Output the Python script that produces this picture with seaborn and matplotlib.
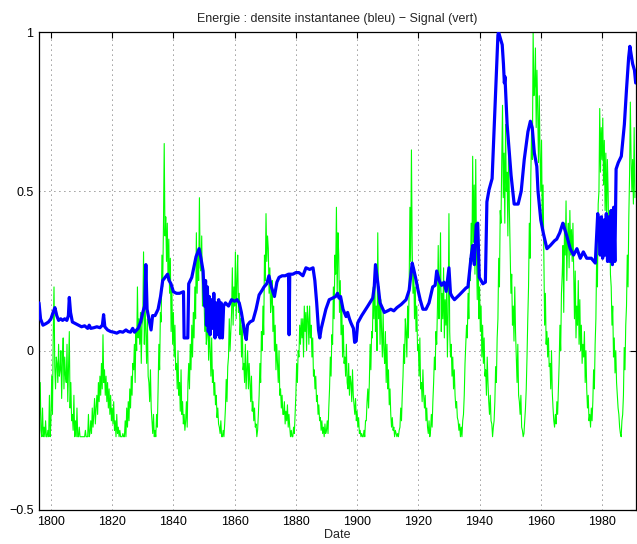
import matplotlib
matplotlib.use("Agg")
import matplotlib.pyplot as plt
import seaborn as sns
import numpy as np
import pandas as pd

# Signal (vert): quarterly readings, 1796 -> 1990, four values per year
signal_start = 1796.0
signal_values = [
    # 1796-1805
    -0.15, -0.22, -0.10, -0.25,  -0.27, -0.18, -0.27, -0.24,  -0.27, -0.22, -0.27, -0.27,
    -0.25, -0.27, -0.14, -0.27,  -0.22, -0.08, -0.20, 0.05,   0.20, -0.05, -0.12, -0.02,
    -0.04, -0.10, 0.02, -0.08,   -0.06, 0.00, -0.15, -0.03,   0.04, -0.12, -0.02, -0.08,
    -0.10, 0.02, -0.16, -0.05,
    # 1806-1815
    0.06, -0.18, -0.10, -0.22,   -0.20, -0.25, -0.14, -0.27,  -0.22, -0.27, -0.18, -0.27,
    -0.27, -0.24, -0.27, -0.27,  -0.27, -0.27, -0.27, -0.27,  -0.27, -0.25, -0.27, -0.27,
    -0.27, -0.20, -0.27, -0.26,  -0.22, -0.26, -0.18, -0.24,  -0.20, -0.15, -0.23, -0.18,
    -0.14, -0.20, -0.10, -0.16,
    # 1816-1825
    -0.08, -0.14, -0.04, -0.12,  0.05, -0.10, -0.06, -0.14,   -0.08, -0.16, -0.10, -0.18,
    -0.12, -0.20, -0.14, -0.22,  -0.18, -0.23, -0.16, -0.25,  -0.22, -0.27, -0.20, -0.26,
    -0.24, -0.27, -0.25, -0.27,  -0.27, -0.27, -0.26, -0.27,  -0.27, -0.22, -0.27, -0.18,
    -0.24, -0.16, -0.22, -0.12,
    # 1826-1835
    -0.18, -0.08, -0.14, -0.04,  -0.06, 0.02, -0.10, 0.06,    0.00, 0.20, 0.04, 0.10,
    0.02, 0.12, -0.04, 0.08,     0.10, 0.31, 0.02, 0.14,      0.06, -0.04, 0.10, -0.08,
    -0.10, -0.16, -0.06, -0.18,  -0.22, -0.26, -0.20, -0.27,  -0.25, -0.27, -0.20, -0.24,
    -0.12, 0.02, -0.06, 0.12,
    # 1836-1845
    0.09, 0.30, 0.20, 0.39,      0.65, 0.36, 0.42, 0.28,      0.40, 0.22, 0.35, 0.18,
    0.29, 0.06, 0.20, 0.02,      0.12, -0.02, 0.08, -0.06,    -0.04, -0.12, 0.00, -0.14,
    -0.10, -0.19, -0.06, -0.20,  -0.16, -0.23, -0.20, -0.25,  -0.22, -0.16, -0.24, -0.10,
    -0.04, -0.12, 0.02, -0.06,
    # 1846-1855
    0.08, -0.02, 0.12, 0.04,     0.20, 0.10, 0.37, 0.18,      0.30, 0.22, 0.48, 0.26,
    0.25, 0.36, 0.14, 0.20,      0.17, 0.06, 0.12, 0.02,      0.05, 0.14, -0.03, 0.08,
    0.00, -0.08, 0.04, -0.10,    -0.06, -0.14, -0.10, -0.17,  -0.14, -0.21, -0.18, -0.23,
    -0.24, -0.26, -0.22, -0.27,
    # 1856-1865
    -0.27, -0.25, -0.27, -0.23,  -0.18, -0.09, -0.16, -0.05,  -0.02, 0.10, 0.00, 0.06,
    0.12, 0.26, 0.08, 0.20,      0.14, 0.31, 0.10, 0.22,      0.30, 0.12, 0.18, 0.05,
    0.10, -0.02, 0.08, -0.06,    -0.04, -0.10, 0.02, -0.12,   -0.06, 0.00, -0.12, -0.04,
    -0.10, -0.16, -0.08, -0.19,
    # 1866-1875
    -0.16, -0.22, -0.18, -0.24,  -0.23, -0.27, -0.25, -0.20,  -0.14, -0.04, -0.10, 0.06,
    0.00, 0.14, 0.05, 0.30,      0.22, 0.43, 0.28, 0.36,      0.32, 0.18, 0.26, 0.12,
    0.15, 0.22, 0.06, 0.14,      0.00, 0.08, -0.06, 0.02,     -0.04, -0.10, 0.00, -0.14,
    -0.12, -0.18, -0.14, -0.20,
    # 1876-1885
    -0.20, -0.16, -0.23, -0.19,  -0.22, -0.17, -0.24, -0.20,  -0.24, -0.27, -0.25, -0.27,
    -0.27, -0.24, -0.26, -0.20,  -0.14, -0.04, -0.10, 0.00,   -0.02, 0.08, 0.02, 0.10,
    0.04, 0.10, -0.02, 0.14,     0.06, 0.12, 0.00, 0.14,      0.10, 0.02, 0.14, 0.04,
    0.08, -0.02, 0.04, -0.08,
    # 1886-1895
    -0.06, -0.12, -0.08, -0.16,  -0.14, -0.20, -0.17, -0.22,  -0.21, -0.25, -0.22, -0.26,
    -0.24, -0.27, -0.23, -0.26,  -0.25, -0.22, -0.26, -0.18,  -0.12, -0.02, -0.08, 0.05,
    0.02, 0.20, 0.10, 0.30,      0.24, 0.45, 0.18, 0.37,      0.30, 0.12, 0.22, 0.05,
    0.14, -0.02, 0.08, -0.04,
    # 1896-1905
    -0.02, -0.08, 0.02, -0.10,   -0.12, -0.04, -0.14, -0.08,  -0.10, -0.16, -0.06, -0.14,
    -0.17, -0.20, -0.15, -0.22,  -0.19, -0.24, -0.21, -0.26,  -0.25, -0.27, -0.26, -0.27,
    -0.27, -0.25, -0.27, -0.22,  -0.22, -0.16, -0.12, -0.18,  -0.10, 0.02, -0.06, 0.06,
    0.04, 0.20, 0.10, 0.27,
    # 1906-1915
    0.06, 0.14, 0.00, 0.37,      0.10, 0.20, 0.02, 0.16,      0.06, -0.02, 0.12, 0.00,
    -0.04, 0.06, -0.10, 0.02,    -0.12, -0.06, -0.17, -0.12,  -0.20, -0.24, -0.21, -0.25,
    -0.24, -0.27, -0.25, -0.26,  -0.27, -0.26, -0.27, -0.25,  -0.24, -0.18, -0.22, -0.14,
    -0.08, 0.02, -0.04, 0.10,
    # 1916-1925
    0.06, -0.02, 0.14, 0.04,     0.20, 0.45, 0.28, 0.63,      0.32, 0.18, 0.26, 0.10,
    0.20, 0.06, 0.14, 0.00,      0.02, -0.08, 0.04, -0.12,    -0.10, -0.16, -0.06, -0.14,
    -0.18, -0.14, -0.22, -0.18,  -0.24, -0.26, -0.22, -0.27,  -0.25, -0.20, -0.24, -0.16,
    -0.10, -0.02, -0.06, 0.06,
    # 1926-1935
    0.02, 0.14, 0.33, 0.10,      0.20, 0.37, 0.06, 0.18,      0.10, 0.26, 0.04, 0.16,
    0.08, 0.20, -0.02, 0.12,     0.43, 0.06, -0.02, 0.02,     -0.08, -0.02, -0.12, -0.06,
    -0.14, -0.18, -0.16, -0.21,  -0.22, -0.25, -0.23, -0.27,  -0.24, -0.27, -0.22, -0.20,
    -0.14, -0.04, 0.02, 0.08,
    # 1936-1945
    0.04, 0.18, 0.10, 0.29,      0.22, 0.40, 0.28, 0.61,      0.34, 0.52, 0.24, 0.60,
    0.30, 0.16, 0.40, 0.10,      0.20, 0.06, 0.14, -0.02,     0.08, -0.04, 0.04, -0.08,
    -0.06, -0.14, -0.02, -0.10,  -0.16, -0.20, -0.14, -0.22,  -0.23, -0.27, -0.24, -0.22,
    -0.16, -0.05, -0.10, 0.04,
    # 1946-1955
    0.10, 0.29, 0.20, 0.44,      0.40, 0.60, 0.77, 0.48,      0.62, 0.40, 0.71, 0.50,
    0.56, 0.36, 0.66, 0.44,      0.30, 0.18, 0.24, 0.08,      0.14, 0.03, 0.20, 0.06,
    -0.02, -0.10, 0.02, -0.14,   -0.16, -0.20, -0.14, -0.24,  -0.25, -0.27, -0.26, -0.22,
    -0.18, -0.12, -0.02, 0.10,
    # 1956-1965
    0.20, 0.40, 0.29, 0.55,      0.70, 0.60, 1.00, 0.80,      0.83, 0.95, 0.70, 0.88,
    0.75, 0.59, 0.80, 0.62,      0.50, 0.66, 0.38, 0.52,      0.29, 0.08, 0.18, 0.02,
    0.06, -0.02, 0.04, -0.05,    -0.04, -0.12, 0.00, -0.13,   -0.18, -0.22, -0.24, -0.20,
    -0.23, -0.16, -0.20, -0.12,
    # 1966-1975
    -0.04, 0.08, 0.00, 0.18,     0.24, 0.33, 0.12, 0.40,      0.30, 0.47, 0.22, 0.36,
    0.40, 0.26, 0.44, 0.30,      0.38, 0.28, 0.40, 0.24,      0.10, 0.25, 0.04, 0.14,
    0.08, 0.22, 0.02, 0.16,      0.00, 0.08, -0.04, 0.02,     -0.02, 0.06, -0.10, 0.00,
    -0.12, -0.18, -0.14, -0.22,
    # 1976-1985
    -0.20, -0.24, -0.18, -0.22,  -0.16, -0.06, -0.12, 0.02,   0.10, 0.30, 0.20, 0.46,
    0.50, 0.76, 0.56, 0.70,      0.60, 0.73, 0.52, 0.66,      0.44, 0.62, 0.40, 0.60,
    0.50, 0.29, 0.44, 0.24,      0.20, 0.08, 0.14, -0.02,     0.04, -0.07, 0.00, -0.10,
    -0.14, -0.18, -0.20, -0.24,
    # 1986-1990
    -0.26, -0.27, -0.22, -0.20,  -0.14, 0.01, -0.06, 0.08,    0.14, 0.30, 0.20, 0.42,
    0.55, 0.78, 0.60, 0.50,      0.60, 0.46, 0.70, 0.48,
]

# Energie, densite instantanee (bleu)
energy_dates = [
    1796.1, 1796.6, 1797.4, 1798.4, 1799.2, 1800.0, 1800.7, 1801.3, 1801.9, 1802.5,
    1803.2, 1803.8, 1804.5, 1805.2, 1805.7, 1806.0, 1806.4, 1807.0, 1808.0, 1809.0,
    1810.0, 1811.0, 1812.0, 1812.5, 1813.0, 1814.0, 1815.0, 1816.0, 1816.8, 1817.2,
    1817.6, 1818.5, 1819.5, 1820.5, 1821.5, 1822.5, 1823.5, 1824.5, 1825.2, 1826.0,
    1826.7, 1827.3, 1828.5, 1829.3, 1830.0, 1830.6, 1831.0, 1831.4, 1832.0, 1832.7,
    1833.2, 1834.0, 1835.0, 1835.8, 1836.5, 1837.3, 1838.1, 1838.6, 1839.2, 1840.0,
    1841.0, 1842.0, 1843.3, 1843.5, 1844.7, 1845.0, 1846.0, 1847.4, 1848.4, 1849.0,
    1849.7, 1850.2, 1850.5, 1850.8, 1851.1, 1851.4, 1851.7, 1852.0, 1852.4, 1852.8,
    1853.2, 1853.6, 1854.0, 1854.4, 1854.8, 1855.2, 1855.6, 1856.0, 1856.4, 1857.0,
    1858.0, 1859.0, 1860.0, 1860.8, 1861.5, 1862.2, 1862.7, 1863.4, 1863.8, 1864.2,
    1865.0, 1866.0, 1867.0, 1868.0, 1869.0, 1869.6, 1870.5, 1871.2, 1872.0, 1873.0,
    1873.8, 1874.5, 1875.5, 1876.5, 1877.6, 1877.8, 1878.0, 1879.0, 1880.0, 1881.0,
    1882.3, 1883.3, 1884.5, 1885.6, 1886.2, 1886.8, 1887.4, 1887.8, 1888.3, 1888.8,
    1889.8, 1890.9, 1892.0, 1893.0, 1893.6, 1894.1, 1894.6, 1895.4, 1896.4, 1896.9,
    1897.5, 1898.0, 1898.8, 1899.2, 1899.7, 1900.2, 1901.5, 1902.5, 1903.5, 1905.1,
    1905.6, 1906.0, 1906.8, 1907.5, 1908.9, 1910.0, 1911.0, 1912.0, 1913.0, 1914.4,
    1916.0, 1917.0, 1917.6, 1918.0, 1918.5, 1919.3, 1919.9, 1920.6, 1921.5, 1922.5,
    1923.5, 1924.7, 1925.5, 1926.0, 1926.8, 1927.6, 1928.4, 1929.1, 1930.0, 1930.5,
    1931.0, 1931.8, 1933.4, 1935.6, 1936.2, 1937.3, 1937.8, 1938.3, 1938.9, 1939.4,
    1939.9, 1941.1, 1941.9, 1942.4, 1943.1, 1944.1, 1946.0, 1946.2, 1947.4, 1947.8,
    1948.1, 1948.3, 1949.0, 1950.3, 1951.3, 1952.6, 1953.6, 1954.6, 1955.8, 1956.6,
    1957.2, 1957.9, 1958.7, 1959.1, 1960.0, 1960.8, 1962.0, 1963.1, 1964.5, 1965.2,
    1966.2, 1967.2, 1968.5, 1969.6, 1970.7, 1971.8, 1972.9, 1973.9, 1975.0, 1976.5,
    1977.8, 1978.6, 1979.0, 1979.4, 1979.8, 1980.2, 1980.6, 1981.0, 1981.4, 1981.8,
    1982.2, 1982.6, 1983.0, 1983.4, 1983.8, 1984.2, 1984.6, 1985.3, 1986.3, 1987.3,
    1988.0, 1988.7, 1989.1, 1989.5, 1990.0, 1990.6, 1991.0,
]
energy_values = [
    0.15, 0.10, 0.08, 0.085, 0.09, 0.10, 0.12, 0.135, 0.11, 0.095,
    0.10, 0.095, 0.10, 0.095, 0.11, 0.167, 0.12, 0.09, 0.085, 0.08,
    0.075, 0.078, 0.07, 0.08, 0.07, 0.072, 0.075, 0.072, 0.08, 0.113,
    0.075, 0.065, 0.06, 0.058, 0.055, 0.06, 0.058, 0.065, 0.06, 0.058,
    0.07, 0.058, 0.07, 0.09, 0.12, 0.14, 0.27, 0.13, 0.10, 0.065,
    0.11, 0.11, 0.13, 0.17, 0.22, 0.23, 0.24, 0.22, 0.21, 0.185,
    0.18, 0.18, 0.185, 0.04, 0.04, 0.21, 0.23, 0.295, 0.32, 0.29,
    0.25, 0.14, 0.22, 0.08, 0.20, 0.06, 0.17, 0.05, 0.16, 0.07,
    0.18, 0.04, 0.15, 0.05, 0.16, 0.04, 0.15, 0.04, 0.14, 0.15,
    0.14, 0.16, 0.155, 0.16, 0.15, 0.12, 0.09, 0.05, 0.035, 0.08,
    0.09, 0.095, 0.13, 0.175, 0.19, 0.20, 0.21, 0.235, 0.20, 0.17,
    0.215, 0.23, 0.235, 0.235, 0.24, 0.05, 0.24, 0.24, 0.245, 0.245,
    0.235, 0.26, 0.255, 0.26, 0.22, 0.15, 0.065, 0.04, 0.07, 0.09,
    0.13, 0.16, 0.165, 0.17, 0.18, 0.165, 0.17, 0.13, 0.107, 0.12,
    0.10, 0.087, 0.07, 0.026, 0.03, 0.087, 0.11, 0.125, 0.14, 0.165,
    0.20, 0.27, 0.21, 0.15, 0.12, 0.125, 0.13, 0.125, 0.135, 0.145,
    0.16, 0.19, 0.24, 0.275, 0.255, 0.22, 0.19, 0.16, 0.13, 0.13,
    0.15, 0.20, 0.205, 0.25, 0.22, 0.205, 0.215, 0.186, 0.26, 0.18,
    0.17, 0.16, 0.175, 0.197, 0.20, 0.30, 0.33, 0.27, 0.395, 0.40,
    0.23, 0.21, 0.215, 0.467, 0.505, 0.54, 0.99, 1.00, 0.96, 0.90,
    0.84, 0.86, 0.71, 0.55, 0.46, 0.46, 0.50, 0.60, 0.687, 0.72,
    0.70, 0.62, 0.578, 0.50, 0.41, 0.37, 0.32, 0.33, 0.345, 0.35,
    0.37, 0.40, 0.36, 0.32, 0.30, 0.32, 0.29, 0.31, 0.29, 0.29,
    0.275, 0.43, 0.39, 0.30, 0.42, 0.29, 0.41, 0.30, 0.43, 0.28,
    0.42, 0.28, 0.44, 0.27, 0.45, 0.28, 0.57, 0.59, 0.61, 0.71,
    0.82, 0.92, 0.955, 0.93, 0.90, 0.88, 0.84,
]

x_ticks = [1800, 1820, 1840, 1860, 1880, 1900, 1920, 1940, 1960, 1980]
y_ticks = [-0.5, 0, 0.5, 1]
y_tick_labels = ["\u22120.5", "0", "0.5", "1"]

signal_dates = signal_start + np.arange(len(signal_values)) / 4.0
df_signal = pd.DataFrame({"Date": signal_dates, "Signal": signal_values})
df_energy = pd.DataFrame({"Date": energy_dates, "Energie": energy_values})

sns.set_style("white")
plt.rcParams["font.family"] = ["Liberation Sans", "DejaVu Sans"]

fig = plt.figure(figsize=(6.37, 5.44), dpi=100)
ax = fig.add_axes([39 / 637, 34 / 544, 597 / 637, 478 / 544])

sns.lineplot(data=df_signal, x="Date", y="Signal", color=(0, 1, 0), linewidth=0.8,
             estimator=None, sort=False, ax=ax, zorder=2)
sns.lineplot(data=df_energy, x="Date", y="Energie", color=(0, 0, 1), linewidth=2.3,
             estimator=None, sort=False, ax=ax, zorder=3)

ax.set_xlim(1796.1, 1991.1)
ax.set_ylim(-0.5, 1)
ax.set_xticks(x_ticks)
ax.set_yticks(y_ticks)
ax.set_yticklabels(y_tick_labels)
ax.tick_params(direction="in", length=4, width=0.8, top=True, right=True,
               labelsize=9, colors="k", pad=4)
ax.grid(True, linestyle=(0, (1, 5)), color="k", linewidth=0.6, alpha=0.8)
for side in ax.spines.values():
    side.set_color("k")
    side.set_linewidth(0.9)

ax.set_title("Energie : densite instantanee (bleu) \u2212 Signal (vert)", fontsize=9, pad=7)
ax.set_xlabel("Date", fontsize=9, labelpad=1)
ax.set_ylabel("")

fig.savefig("out.png", dpi=100)
